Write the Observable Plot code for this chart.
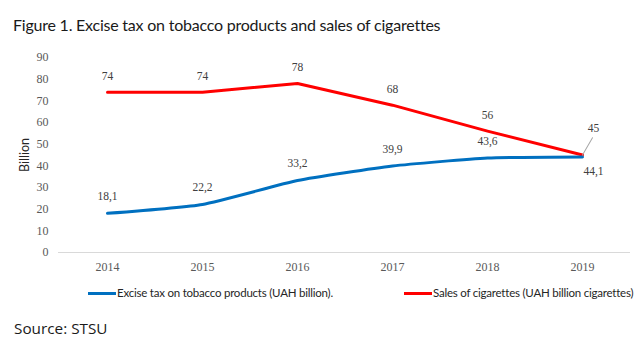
<!DOCTYPE html>
<html>
<head>
<meta charset="utf-8">
<script src="https://cdn.jsdelivr.net/npm/d3@7"></script>
<script src="https://cdn.jsdelivr.net/npm/@observablehq/plot@0.6"></script>
<style>
  html, body { margin: 0; padding: 0; background: #fff; }
  body { width: 640px; height: 360px; position: relative; overflow: hidden; }
  #title { position: absolute; left: 13px; top: 15px; font-family: Lato, sans-serif; font-size: 16px; letter-spacing: -0.22px; line-height: 20px; color: #1a1a1a; white-space: nowrap; }
  #chart { position: absolute; left: 0; top: 40px; }
  #legend { position: absolute; left: 0; top: 284px; width: 640px; height: 18px; font-family: Lato, sans-serif; font-size: 11.5px; letter-spacing: -0.22px; line-height: 18px; color: #262626; }
  .item { position: absolute; top: 0; white-space: nowrap; }
  .sw { display: inline-block; width: 28px; height: 3px; vertical-align: middle; margin-right: 1px; position: relative; top: -1px; }
  #source { position: absolute; left: 14px; top: 317px; font-family: "Open Sans", sans-serif; font-size: 15.3px; line-height: 22px; color: #1a1a1a; }
</style>
</head>
<body>
<div id="title">Figure 1. Excise tax on tobacco products and sales of cigarettes</div>
<div id="chart"></div>
<div id="legend"></div>
<div id="source">Source: STSU</div>
<script>
const years = ["2014", "2015", "2016", "2017", "2018", "2019"];
const exciseValues = [18.1, 22.2, 33.2, 39.9, 43.6, 44.1];
const salesValues = [74, 74, 78, 68, 56, 45];
const exciseLabels = ["18,1", "22,2", "33,2", "39,9", "43,6", "44,1"];
const salesLabels = ["74", "74", "78", "68", "56", "45"];
const seriesNames = ["Excise tax on tobacco products (UAH billion).", "Sales of cigarettes (UAH billion cigarettes)"];
const seriesColors = ["#0070C0", "#FF0000"];
const yTicks = [0, 10, 20, 30, 40, 50, 60, 70, 80, 90];

const excise = years.map((y, i) => ({year: y, value: exciseValues[i], label: exciseLabels[i]}));
const sales = years.map((y, i) => ({year: y, value: salesValues[i], label: salesLabels[i]}));
const lastYear = years[years.length - 1];

const leader = {
  draw(context, l) { context.moveTo(0, 0); context.lineTo(0, -l); }
};

const chart = Plot.plot({
  width: 640,
  height: 240,
  marginLeft: 58,
  marginRight: 10,
  marginTop: 17,
  marginBottom: 28,
  style: {fontFamily: "'Liberation Serif', serif", fontSize: "12px", color: "#595959", background: "transparent"},
  x: {type: "point", domain: years, padding: 0.5},
  y: {domain: [0, 90]},
  marks: [
    Plot.axisX({label: null, tickSize: 0, tickPadding: 10}),
    Plot.axisY({ticks: yTicks, tickSize: 0, tickPadding: 10, label: null}),
    Plot.axisY({ticks: [], label: "Billion", labelArrow: "none", labelAnchor: "center", labelOffset: 38, fontFamily: "Lato, sans-serif", fontSize: 12.5, fill: "#262626"}),
    Plot.ruleY([0], {stroke: "#d9d9d9", strokeWidth: 1}),
    Plot.line(sales, {x: "year", y: "value", stroke: seriesColors[1], strokeWidth: 3}),
    Plot.line(excise, {x: "year", y: "value", stroke: seriesColors[0], strokeWidth: 3, curve: "cardinal", tension: 0.5}),
    Plot.text(sales.filter(d => d.year !== lastYear), {x: "year", y: "value", text: "label", dy: -16, fill: "#404040", fontSize: 11.5}),
    Plot.text(excise.filter(d => d.year !== lastYear), {x: "year", y: "value", text: "label", dy: -17, fill: "#404040", fontSize: 11.5}),
    Plot.vector(sales.filter(d => d.year === lastYear), {x: "year", y: "value", length: 20, rotate: 30, anchor: "start", shape: leader, stroke: "#a6a6a6", strokeWidth: 1}),
    Plot.text(sales.filter(d => d.year === lastYear), {x: "year", y: "value", text: "label", dx: 11, dy: -27, fill: "#404040", fontSize: 11.5}),
    Plot.text(excise.filter(d => d.year === lastYear), {x: "year", y: "value", text: "label", dx: 11, dy: 14, fill: "#404040", fontSize: 11.5})
  ]
});
document.getElementById("chart").appendChild(chart);

const legend = document.getElementById("legend");
const legendLeft = [88, 404];
seriesNames.forEach((name, i) => {
  const item = document.createElement("div");
  item.className = "item";
  item.style.left = legendLeft[i] + "px";
  const sw = document.createElement("span");
  sw.className = "sw";
  sw.style.background = seriesColors[i];
  item.appendChild(sw);
  item.appendChild(document.createTextNode(name));
  legend.appendChild(item);
});
</script>
</body>
</html>
